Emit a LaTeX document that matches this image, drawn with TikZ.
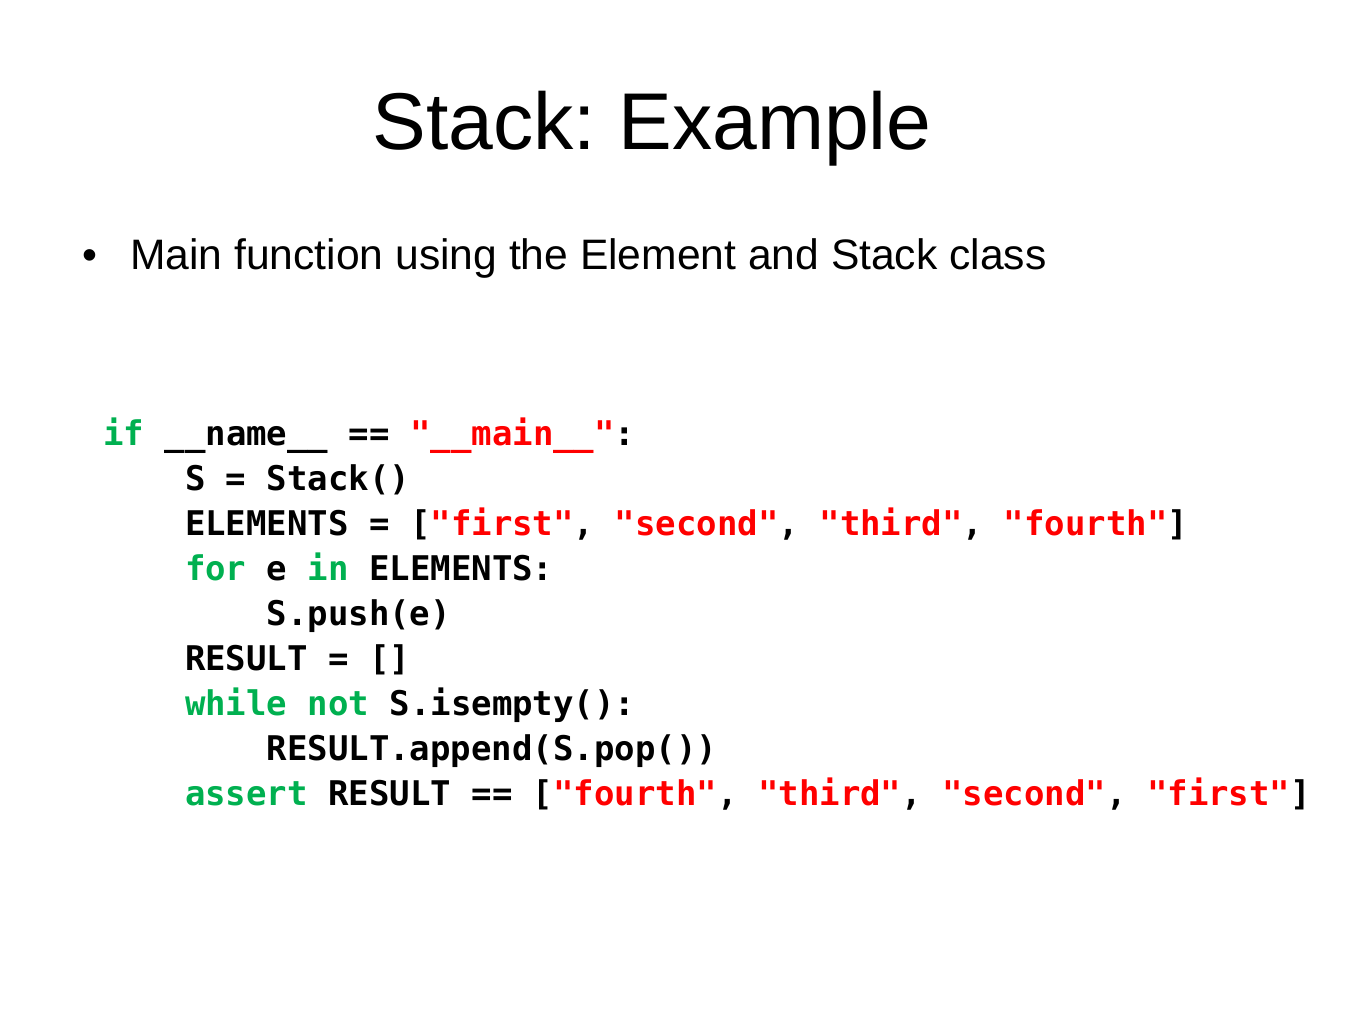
\documentclass[tikz,border=0pt]{standalone}
\usepackage{fontspec}
\setmainfont{Liberation Sans}
\newfontfamily\codefont{DejaVu Sans Mono}
\usetikzlibrary{positioning}
\definecolor{kwgreen}{RGB}{0,176,80}
\definecolor{strred}{RGB}{255,0,0}
\newcommand{\kw}[1]{\textcolor{kwgreen}{#1}}
\newcommand{\strg}[1]{\textcolor{strred}{#1}}
\frenchspacing
\begin{document}
\begin{tikzpicture}[x=1pt,y=-1pt,
  codeline/.style={anchor=base west, inner sep=0pt, font=\codefont\bfseries\fontsize{34}{40}\selectfont}]
\useasboundingbox (0,0) rectangle (1365,1024);
\node[anchor=base, inner sep=0pt] (title) at (652,150) {\fontsize{80.5}{80}\selectfont Stack: Example};
\node[anchor=base west, inner sep=0pt] (bullet) at (82,270) {\fontsize{42.6}{43}\selectfont •};
\node[anchor=base west, inner sep=0pt] (point) at (130,270) {\fontsize{42.6}{43}\selectfont Main function using the Element and Stack class};
% code
\node[codeline] (l1) at (103,445) {\kw{if} \_\_name\_\_ == \strg{"\_\_main\_\_"}:};
\node[codeline] (l2) at (184.8,490) {S = Stack()};
\node[codeline] (l3) at (184.8,535) {ELEMENTS = [\strg{"first"}, \strg{"second"}, \strg{"third"}, \strg{"fourth"}]};
\node[codeline] (l4) at (184.8,580) {\kw{for} e \kw{in} ELEMENTS:};
\node[codeline] (l5) at (266.5,625) {S.push(e)};
\node[codeline] (l6) at (184.8,670) {RESULT = []};
\node[codeline] (l7) at (184.8,715) {\kw{while} \kw{not} S.isempty():};
\node[codeline] (l8) at (266.5,760) {RESULT.append(S.pop())};
\node[codeline] (l9) at (184.8,805) {\kw{assert} RESULT == [\strg{"fourth"}, \strg{"third"}, \strg{"second"}, \strg{"first"}]};
\end{tikzpicture}
\end{document}
